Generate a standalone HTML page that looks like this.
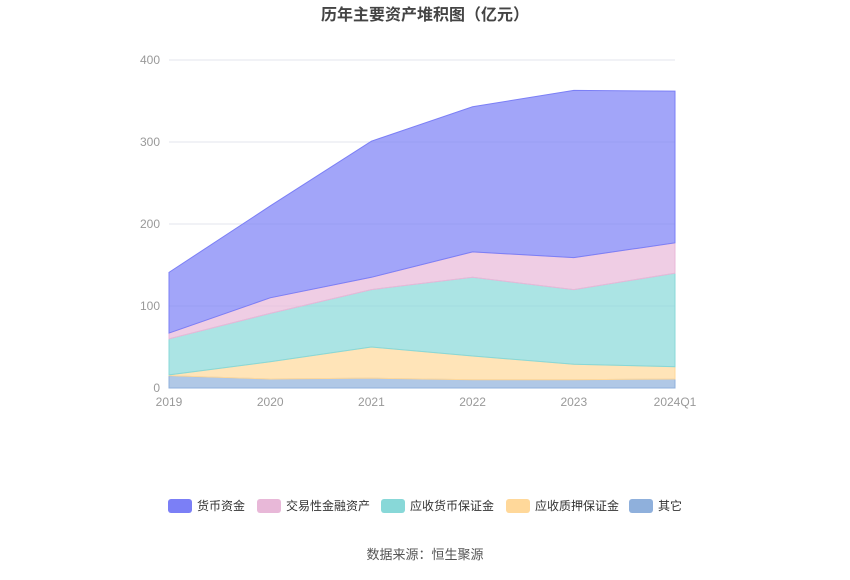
<!DOCTYPE html>
<html><head><meta charset="utf-8"><style>
body{margin:0;background:#fff;font-family:"Liberation Sans","Noto Sans CJK SC",sans-serif}
</style></head><body>
<svg width="850" height="575" xmlns="http://www.w3.org/2000/svg" id="chart" font-family="Liberation Sans, Noto Sans CJK SC, sans-serif">
<text x="425" y="20" text-anchor="middle" font-size="16" font-weight="bold" fill="#444">历年主要资产堆积图（亿元）</text>
<g id="grid"></g><g id="areas"></g><g id="axis"></g><g id="legend"></g>
<text x="425" y="559" text-anchor="middle" font-size="13" fill="#555">数据来源：恒生聚源</text>
</svg>
<script>
const categories=["2019","2020","2021","2022","2023","2024Q1"];
const seriesNames=["其它","应收质押保证金","应收货币保证金","交易性金融资产","货币资金"];
const other=[15,11,12,10,10,11];
const pledge=[1,21,38,29,19,15];
const margin=[44,59,70,96,91,114];
const trading=[7,19,15,31,39,37];
const cash=[74,112,166,177,204,185];
const yTicks=[0,100,200,300,400];
const NS="http://www.w3.org/2000/svg";
const x0=169,x1=675,yb=388,yt=60,ymax=400;
const xs=i=>x0+(x1-x0)*i/(categories.length-1);
const ys=v=>yb-(yb-yt)*v/ymax;
function mk(t,a,p){const e=document.createElementNS(NS,t);for(const k in a)e.setAttribute(k,a[k]);p.appendChild(e);return e;}
const grid=document.getElementById('grid'),axis=document.getElementById('axis'),areas=document.getElementById('areas'),legend=document.getElementById('legend');
yTicks.forEach(v=>{
 const l=mk('line',{x1:x0,x2:x1,y1:ys(v),y2:ys(v),stroke:v?'#e3e6ee':'#999'},grid);
 
 
 const t=mk('text',{x:x0-9,y:ys(v)+4,'text-anchor':'end','font-size':12,fill:'#999'},axis);t.textContent=v;
 
 
});
categories.forEach((c,i)=>{
 const t=mk('text',{x:xs(i),y:406,'text-anchor':'middle','font-size':12,fill:'#999'},axis);t.textContent=c;
 
 
});
const data=[other,pledge,margin,trading,cash];
const fills=["#8fb0dc","#ffd89a","#88d8d8","#e8b8d8","#7b7ff6"];
let base=categories.map(()=>0);
data.forEach((s,k)=>{
 const top=base.map((b,i)=>b+s[i]);
 let d="M"+top.map((v,i)=>xs(i)+","+ys(v)).join("L");
 for(let i=categories.length-1;i>=0;i--)d+="L"+xs(i)+","+ys(base[i]);
 const p=mk('path',{d:d+"Z",fill:fills[k],'fill-opacity':0.7,stroke:fills[k],'stroke-width':1},areas);
 
 
 base=top;
});
const order=[4,3,2,1,0];const lx=[168,257,381,506,629];
order.forEach((k,j)=>{
 const g=mk('g',{},legend);
 
 
 mk('rect',{x:lx[j],y:499,width:24,height:14,rx:3,fill:fills[k]},g);
 const t=mk('text',{x:lx[j]+29,y:510,'font-size':12,fill:'#333'},g);t.textContent=seriesNames[k];
});
</script>
</body></html>
